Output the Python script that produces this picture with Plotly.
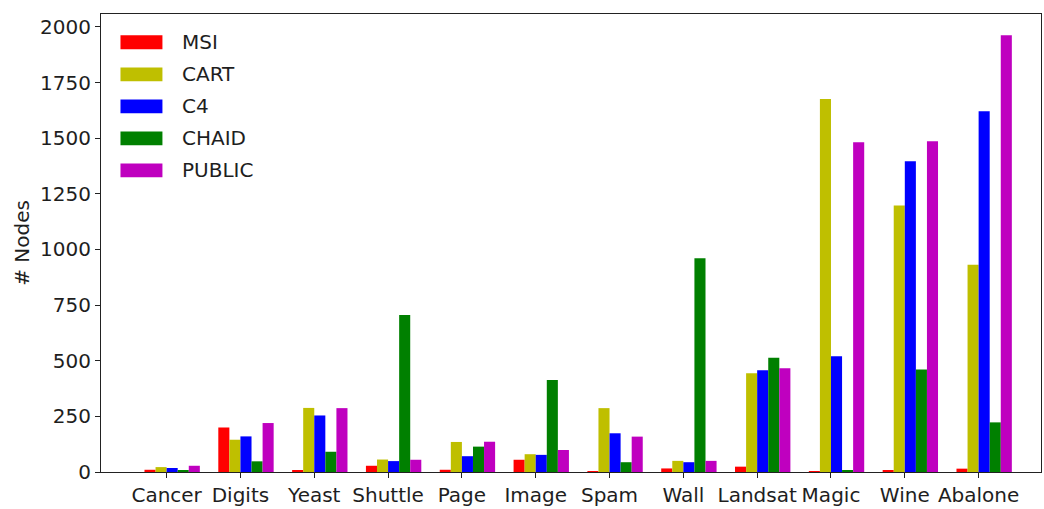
import plotly.graph_objects as go

# Tree size (# nodes) per dataset for each induction method
datasets = ["Cancer", "Digits", "Yeast", "Shuttle", "Page", "Image",
            "Spam", "Wall", "Landsat", "Magic", "Wine", "Abalone"]
msi = [10, 200, 9, 28, 10, 55, 4, 16, 24, 4, 9, 15]
cart = [22, 145, 288, 56, 135, 80, 287, 50, 444, 1676, 1198, 931]
c4 = [18, 160, 254, 49, 71, 77, 174, 44, 457, 520, 1396, 1621]
chaid = [5, 48, 91, 705, 114, 413, 44, 961, 513, 8, 461, 223]
public = [28, 220, 287, 55, 136, 99, 159, 50, 466, 1482, 1486, 1963]

methods = ["MSI", "CART", "C4", "CHAID", "PUBLIC"]
series = [msi, cart, c4, chaid, public]
colors = ["#ff0000", "#bfbf00", "#0000ff", "#008000", "#bf00bf"]
yticks = [0, 250, 500, 750, 1000, 1250, 1500, 1750, 2000]

W, H = 1044, 509
ML, MR, MT, MB = 101, 2, 14, 30
BAR_W = 0.15
FONT = dict(family="DejaVu Sans", size=20, color="#1e1e1e")

fig = go.Figure()
for k, (name, vals, col) in enumerate(zip(methods, series, colors)):
    fig.add_trace(go.Bar(
        x=datasets, y=vals, name=name,
        width=BAR_W, offset=(k - 2) * BAR_W,
        marker=dict(color=col, line=dict(width=0)),
        showlegend=False,
    ))

# Legend drawn as patches + labels in the upper-left corner of the axes
plot_w = W - ML - MR
plot_h = H - MT - MB


def px_to_paper(px, py):
    return (px - ML) / plot_w, (H - MB - py) / plot_h


shapes = []
annotations = []
for i, (name, col) in enumerate(zip(methods, colors)):
    cy = 42.7 + i * 32.5
    x0, y0 = px_to_paper(120.5, cy + 7)
    x1, y1 = px_to_paper(162.5, cy - 7)
    shapes.append(dict(type="rect", xref="paper", yref="paper",
                       x0=x0, y0=y0, x1=x1, y1=y1,
                       fillcolor=col, line=dict(width=0)))
    tx, ty = px_to_paper(180, cy)
    annotations.append(dict(xref="paper", yref="paper", x=tx, y=ty,
                            text=name, showarrow=False,
                            xanchor="left", yanchor="middle", font=FONT))

fig.update_layout(
    width=W, height=H,
    margin=dict(l=ML, r=MR, t=MT, b=MB, pad=0),
    paper_bgcolor="white", plot_bgcolor="white",
    barmode="overlay",
    font=FONT,
    shapes=shapes,
    annotations=annotations,
)
fig.update_xaxes(
    type="category", range=[-0.889, 11.845],
    showline=True, linecolor="#222222", linewidth=1, mirror=True,
    ticks="outside", ticklen=5, tickcolor="#222222",
    showgrid=False, zeroline=False, tickfont=FONT,
)
fig.update_yaxes(
    range=[0, 2058], tickvals=yticks, ticktext=[str(v) for v in yticks],
    showline=True, linecolor="#222222", linewidth=1, mirror=True,
    ticks="outside", ticklen=5, tickcolor="#222222",
    showgrid=False, zeroline=False, tickfont=FONT,
    title=dict(text="# Nodes", font=FONT, standoff=5),
)

fig.write_html("out.html")
